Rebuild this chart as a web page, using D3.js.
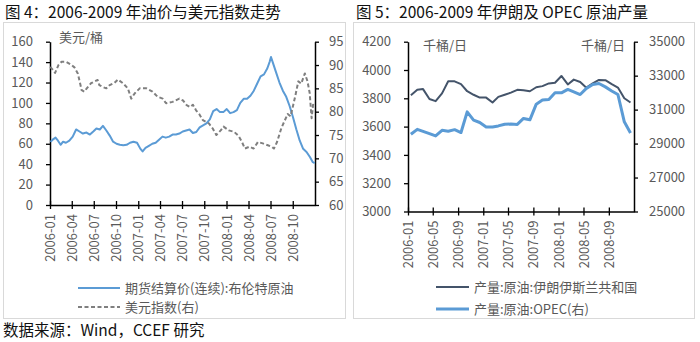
<!DOCTYPE html>
<html><head><meta charset="utf-8">
<script src="https://cdn.jsdelivr.net/npm/d3@7"></script>
<style>
html,body{margin:0;padding:0;background:#fff;}
text{font-family:"Noto Sans CJK SC","Noto Sans",sans-serif;}
</style></head>
<body><svg id="c" width="700" height="342"></svg>
<script>
// ---------- Chart 4 data: Brent settlement price & US dollar index ----------
const brentDates = ["2006-01-03","2006-01-12","2006-01-24","2006-02-03","2006-02-14","2006-02-24","2006-03-08","2006-03-22","2006-04-05","2006-04-19","2006-05-03","2006-05-17","2006-06-01","2006-06-15","2006-06-29","2006-07-12","2006-07-26","2006-08-08","2006-08-22","2006-09-05","2006-09-19","2006-10-03","2006-10-17","2006-10-31","2006-11-14","2006-11-28","2006-12-12","2006-12-27","2007-01-10","2007-01-19","2007-01-31","2007-02-14","2007-02-28","2007-03-14","2007-03-28","2007-04-11","2007-04-25","2007-05-09","2007-05-23","2007-06-06","2007-06-20","2007-07-04","2007-07-18","2007-08-01","2007-08-15","2007-08-29","2007-09-12","2007-09-26","2007-10-10","2007-10-24","2007-11-07","2007-11-21","2007-12-05","2007-12-19","2008-01-02","2008-01-16","2008-01-30","2008-02-13","2008-02-27","2008-03-12","2008-03-26","2008-04-09","2008-04-23","2008-05-07","2008-05-21","2008-06-04","2008-06-18","2008-06-27","2008-07-03","2008-07-10","2008-07-24","2008-08-07","2008-08-21","2008-09-04","2008-09-18","2008-10-02","2008-10-16","2008-10-30","2008-11-13","2008-11-27","2008-12-11","2008-12-23","2008-12-31"];
const brentPrices = [61.8,64,66,63,59,62,61,63,67,74,72,70,71,69,72,75,74,77.5,73,68,62,60,59,58.5,59,61,62,61,55,52.5,56,58,60,61,64,67,66,67,69,69,70,72,73,74,70.5,71.5,76,78,80,84,92,94,91,91,94,90,91,93,100,104,104,107,112,119,126,128,134,140,145,140,130,120,112,106,97,86,74,63,55,52,47,42,41];

const dxyDates = ["2006-01-02","2006-01-12","2006-01-22","2006-02-05","2006-02-18","2006-03-08","2006-03-29","2006-04-12","2006-04-26","2006-05-08","2006-05-12","2006-05-23","2006-06-02","2006-06-20","2006-07-05","2006-07-17","2006-07-24","2006-08-07","2006-08-22","2006-09-05","2006-09-25","2006-10-09","2006-10-30","2006-11-19","2006-12-03","2006-12-17","2007-01-07","2007-02-04","2007-03-01","2007-03-22","2007-04-12","2007-04-26","2007-05-23","2007-06-20","2007-07-05","2007-07-20","2007-08-03","2007-08-15","2007-08-28","2007-09-10","2007-09-25","2007-10-20","2007-11-05","2007-11-20","2007-12-08","2007-12-20","2008-01-10","2008-02-01","2008-02-20","2008-03-05","2008-03-17","2008-04-05","2008-04-22","2008-05-10","2008-05-30","2008-06-20","2008-07-05","2008-07-15","2008-07-28","2008-08-15","2008-08-28","2008-09-10","2008-09-22","2008-10-01","2008-10-12","2008-10-24","2008-11-05","2008-11-20","2008-12-01","2008-12-10","2008-12-18","2008-12-24","2008-12-31"];
const dxyValues = [89.6,89.0,88.3,90.0,90.7,90.7,90.1,89.5,88.2,85.5,84.6,84.3,85.0,86.1,86.5,86.8,85.7,85.3,85.0,85.7,86.2,86.9,86.1,85.0,82.8,83.9,85.0,85.0,84.3,83.2,82.8,81.8,82.1,82.8,82.4,81.4,81.0,81.5,80.3,79.5,78.2,77.5,76.4,75.0,76.0,76.8,76.0,75.7,74.8,73.5,72.1,72.5,72.1,73.5,73.2,72.8,72.5,72.1,73.5,76.5,78,79.5,79,81,83.5,86.5,86,88.2,86.5,84,78.6,81.5,81];

const leftTicks4 = [0,20,40,60,80,100,120,140,160];
const rightTicks4 = [60,65,70,75,80,85,90,95];
const xTickLabels4 = ["2006-01","2006-04","2006-07","2006-10","2007-01","2007-04","2007-07","2007-10","2008-01","2008-04","2008-07","2008-10"];

// ---------- Chart 5 data: Iran & OPEC crude output (monthly) ----------
const months5 = ["2006-01","2006-02","2006-03","2006-04","2006-05","2006-06","2006-07","2006-08","2006-09","2006-10","2006-11","2006-12","2007-01","2007-02","2007-03","2007-04","2007-05","2007-06","2007-07","2007-08","2007-09","2007-10","2007-11","2007-12","2008-01","2008-02","2008-03","2008-04","2008-05","2008-06","2008-07","2008-08","2008-09","2008-10","2008-11","2008-12"];
const iranOutput = [3822,3860,3865,3795,3780,3835,3920,3920,3900,3850,3825,3805,3805,3770,3810,3825,3840,3860,3857,3850,3878,3886,3905,3910,3958,3898,3932,3915,3875,3905,3930,3928,3900,3876,3800,3770];
const opecOutput = [29550,29840,29720,29590,29450,29780,29730,29820,29650,30870,30380,30240,29980,29980,30040,30140,30150,30130,30480,30400,31320,31560,31600,31990,31990,32190,32050,31890,32250,32480,32540,32340,32100,31890,30280,29620];

const leftTicks5 = [3000,3200,3400,3600,3800,4000,4200];
const rightTicks5 = [25000,27000,29000,31000,33000,35000];
const xTickLabels5 = ["2006-01","2006-05","2006-09","2007-01","2007-05","2007-09","2008-01","2008-05","2008-09"];

const titles = ["图 4：2006-2009 年油价与美元指数走势","图 5：2006-2009 年伊朗及 OPEC 原油产量"];
const sourceText = "数据来源：Wind，CCEF 研究";

// ---------- drawing ----------
const svg = d3.select("#c");
const parse = d3.timeParse("%Y-%m-%d");
const parseM = d3.timeParse("%Y-%m");
const labelColor = "#595959";
const blue = "#5b9bd5";

svg.append("rect").attr("width",700).attr("height",342).attr("fill","#fff");

svg.append("text").attr("x",5).attr("y",18).attr("font-size",15.5).attr("fill","#111").text(titles[0]);
svg.append("text").attr("x",356).attr("y",18).attr("font-size",15.5).attr("fill","#111").text(titles[1]);
svg.append("text").attr("x",3).attr("y",336).attr("font-size",15.5).attr("fill","#111").text(sourceText);

svg.append("rect").attr("x",3.5).attr("y",22.5).attr("width",342).attr("height",296).attr("fill","none").attr("stroke","#d9d9d9");
svg.append("rect").attr("x",353.5).attr("y",22.5).attr("width",341).attr("height",296).attr("fill","none").attr("stroke","#d9d9d9");

function styleAxis(g){
  g.select(".domain").attr("stroke","#000").attr("stroke-width",1.5);
  g.selectAll(".tick line").attr("stroke","#000").attr("stroke-width",1.3);
  g.selectAll("text").attr("fill",labelColor).attr("font-size",13);
}

function drawChart(cfg){
  const x = d3.scaleTime().domain(cfg.xDomain).range([cfg.x0,cfg.x1]);
  const yL = d3.scaleLinear().domain(cfg.lDomain).range([cfg.yB,cfg.yT]);
  const yR = d3.scaleLinear().domain(cfg.rDomain).range([cfg.yB,cfg.yT]);
  const fmt = d3.format("d");

  const gl = svg.append("g").attr("transform",`translate(${cfg.x0},0)`)
    .call(d3.axisLeft(yL).tickValues(cfg.lTicks).tickFormat(fmt).tickSizeInner(4).tickSizeOuter(0).tickPadding(13));
  styleAxis(gl);
  const gr = svg.append("g").attr("transform",`translate(${cfg.x1},0)`)
    .call(d3.axisRight(yR).tickValues(cfg.rTicks).tickFormat(fmt).tickSizeInner(4).tickSizeOuter(0).tickPadding(cfg.rPad));
  styleAxis(gr);
  const tickDates = cfg.xLabels.map(s=>parseM(s));
  const gb = svg.append("g").attr("transform",`translate(0,${cfg.yB})`)
    .call(d3.axisBottom(x).tickValues(tickDates).tickFormat(d3.timeFormat("%Y-%m")).tickSizeInner(4).tickSizeOuter(0));
  styleAxis(gb);
  gb.selectAll(".tick line").attr("y1",-4).attr("y2",4);
  gb.selectAll(".tick text").attr("transform","rotate(-90)").attr("text-anchor","end")
    .attr("x",-9).attr("y",0).attr("dy","0.35em");

  svg.append("text").attr("x",cfg.unitLX).attr("y",cfg.unitY).attr("font-size",13).attr("fill",labelColor).text(cfg.unitL);
  if(cfg.unitR) svg.append("text").attr("x",cfg.unitRX).attr("y",cfg.unitY).attr("text-anchor","end").attr("font-size",13).attr("fill",labelColor).text(cfg.unitR);

  cfg.series.forEach(s=>{
    const ys = s.axis==="L"?yL:yR;
    const line = d3.line().x((d,i)=>x(s.dates[i])).y((d)=>ys(d));
    svg.append("path").datum(s.values).attr("d",line).attr("fill","none")
      .attr("stroke",s.color).attr("stroke-width",s.width).attr("stroke-dasharray",s.dash||null)
      .attr("stroke-linejoin","round");
  });

  cfg.series.forEach((s,i)=>{
    const ly = cfg.legY + i*cfg.legGap;
    svg.append("line").attr("x1",cfg.legX).attr("x2",cfg.legX+cfg.legLen).attr("y1",ly).attr("y2",ly)
      .attr("stroke",s.color).attr("stroke-width",s.width).attr("stroke-dasharray",s.dash||null);
    svg.append("text").attr("x",cfg.legX+cfg.legLen+5).attr("y",ly).attr("dy","0.35em")
      .attr("font-size",13).attr("fill",labelColor).text(s.name);
  });
}

drawChart({
  xDomain:[parse("2006-01-01"),parse("2009-01-01")], x0:50, x1:315, yB:205, yT:41.7,
  lDomain:[0,160], rDomain:[60,95], lTicks:leftTicks4, rTicks:rightTicks4, rPad:10,
  xLabels:xTickLabels4,
  unitL:"美元/桶", unitLX:59, unitY:42, unitR:null,
  legX:78, legLen:42, legY:288, legGap:19,
  series:[
    {name:"期货结算价(连续):布伦特原油", dates:brentDates.map(parse), values:brentPrices, axis:"L", color:blue, width:2},
    {name:"美元指数(右)", dates:dxyDates.map(parse), values:dxyValues, axis:"R", color:"#7f7f7f", width:2, dash:"4,2.5"}
  ]
});

drawChart({
  xDomain:[parse("2006-01-01"),parse("2009-01-01")], x0:408, x1:634, yB:211.5, yT:41.7,
  lDomain:[3000,4200], rDomain:[25000,35000], lTicks:leftTicks5, rTicks:rightTicks5, rPad:11,
  xLabels:xTickLabels5,
  unitL:"千桶/日", unitLX:423, unitY:50, unitR:"千桶/日", unitRX:625,
  legX:436, legLen:33, legY:287, legGap:22,
  series:[
    {name:"产量:原油:伊朗伊斯兰共和国", dates:months5.map(m=>d3.timeDay.offset(parseM(m),14)), values:iranOutput, axis:"L", color:"#44546a", width:2},
    {name:"产量:原油:OPEC(右)", dates:months5.map(m=>d3.timeDay.offset(parseM(m),14)), values:opecOutput, axis:"R", color:blue, width:3}
  ]
});
</script></body></html>
